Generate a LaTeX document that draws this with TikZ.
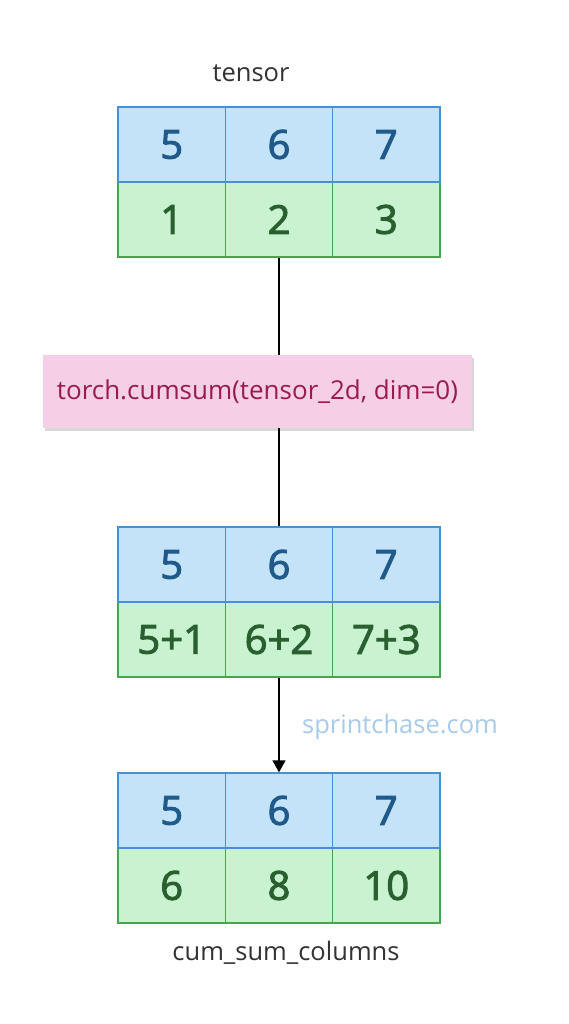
\documentclass[tikz,border=0pt]{standalone}
\usepackage{fontspec}
\setmainfont{Open Sans}
\newfontfamily\digitfont{Open Sans}[FakeBold=2.5]
\usetikzlibrary{arrows.meta,shadows}
\definecolor{bfill}{HTML}{C5E3F8}
\definecolor{bdraw}{HTML}{4A8FD4}
\definecolor{btext}{HTML}{1F5A8A}
\definecolor{gfill}{HTML}{C8F2D0}
\definecolor{gdraw}{HTML}{4AA350}
\definecolor{gtext}{HTML}{2A6030}
\definecolor{pfill}{HTML}{F5CFE6}
\definecolor{ptext}{HTML}{9B1B50}
\definecolor{wmark}{HTML}{A8CBEC}
\definecolor{ltext}{HTML}{333333}
\tikzset{
  cell/.style={minimum width=107.3pt, minimum height=75pt, inner sep=0pt, line width=1.3pt,
    font=\digitfont\fontsize{40}{44}\selectfont},
  bcell/.style={cell, fill=bfill, draw=bdraw, text=btext},
  gcell/.style={cell, fill=gfill, draw=gdraw, text=gtext},
  lbl/.style={font=\fontsize{25.5}{30}\selectfont, text=ltext},
  conn/.style={line width=1.3pt, black}
}
\begin{document}
\begin{tikzpicture}[x=1pt,y=-1pt]
\useasboundingbox (0,0) rectangle (569,1024);
\fill[white] (0,0) rectangle (569,1024);
% labels
\node[lbl] (tl) at (251,73) {tensor};
\node[lbl] (bl) at (286,953) {cum\_sum\_columns};
% top grid
\node[gcell] (t10) at (171.7,219.5) {1};
\node[gcell] (t11) at (279,219.5) {2};
\node[gcell] (t12) at (386.3,219.5) {3};
\node[bcell] (t00) at (171.7,144.5) {5};
\node[bcell] (t01) at (279,144.5) {6};
\node[bcell] (t02) at (386.3,144.5) {7};
% middle grid
\node[gcell] (m10) at (171.7,639.5) {5+1};
\node[gcell] (m11) at (279,639.5) {6+2};
\node[gcell] (m12) at (386.3,639.5) {7+3};
\node[bcell] (m00) at (171.7,564.5) {5};
\node[bcell] (m01) at (279,564.5) {6};
\node[bcell] (m02) at (386.3,564.5) {7};
% bottom grid
\node[gcell] (b10) at (171.7,885.5) {6};
\node[gcell] (b11) at (279,885.5) {8};
\node[gcell] (b12) at (386.3,885.5) {10};
\node[bcell] (b00) at (171.7,810.5) {5};
\node[bcell] (b01) at (279,810.5) {6};
\node[bcell] (b02) at (386.3,810.5) {7};
% function box
\node[fill=pfill, minimum width=429pt, minimum height=73pt, inner sep=0pt,
  text=ptext, font=\fontsize{26}{30}\selectfont,
  drop shadow={shadow xshift=2pt, shadow yshift=-3pt, opacity=0.25, fill=black!60}]
  (fn) at (257.5,391.5) {torch.cumsum(tensor\_2d, dim=0)};
% watermark
\node[font=\fontsize{25.5}{30}\selectfont, text=wmark] (wm) at (400,727) {sprintchase.com};
% connectors
\draw[conn] (t11.south) -- (t11.south |- fn.north);
\draw[conn] (m01.north |- fn.south) -- (m01.north);
\draw[conn, -{Triangle[length=12pt, width=13pt]}] (m11.south) -- (b01.north);
\end{tikzpicture}
\end{document}
